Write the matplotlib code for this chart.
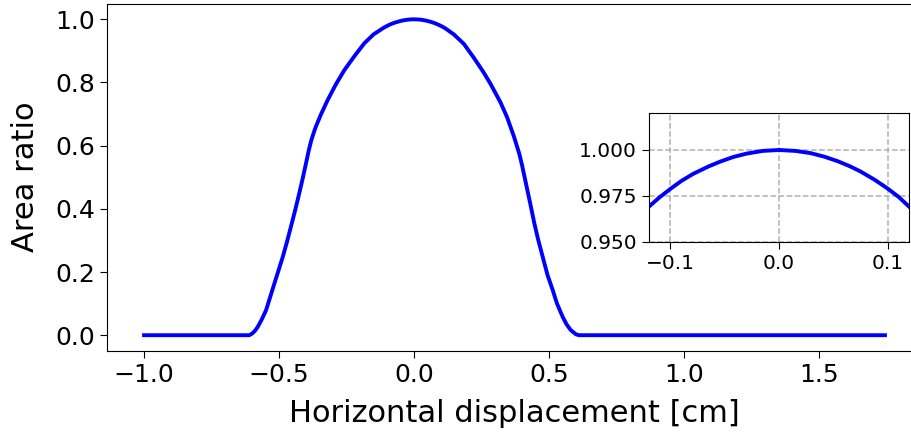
import matplotlib
matplotlib.use('Agg')
import matplotlib.pyplot as plt

# values (main curve plus the zoomed inset)
displacement = [-1.0, -0.61, -0.60, -0.59, -0.579, -0.565, -0.548, -0.533, -0.517,
                -0.50, -0.486, -0.47, -0.456, -0.44, -0.425, -0.412, -0.40,
                -0.39, -0.381, -0.369, -0.363, -0.345, -0.32, -0.29, -0.258,
                -0.22, -0.184, -0.15, -0.12, -0.11, -0.10, -0.09, -0.079,
                -0.065, -0.054, -0.042, -0.03, -0.015, 0.0, 0.015, 0.029,
                0.042, 0.054, 0.065, 0.075, 0.088, 0.10, 0.11, 0.12, 0.148,
                0.185, 0.222, 0.258, 0.284, 0.32, 0.345, 0.37, 0.39, 0.40,
                0.415, 0.43, 0.446, 0.46, 0.477, 0.495, 0.514, 0.53, 0.551,
                0.565, 0.581, 0.60, 0.611, 1.745]
area_ratio = [0.0, 0.0, 0.005, 0.013, 0.026, 0.048, 0.079, 0.12, 0.164,
              0.21, 0.248, 0.297, 0.343, 0.396, 0.449, 0.497, 0.544,
              0.584, 0.615, 0.647, 0.661, 0.698, 0.744, 0.793, 0.839,
              0.884, 0.924, 0.952, 0.969, 0.9742, 0.9788, 0.9831, 0.9870,
              0.9910, 0.9937, 0.9962, 0.998, 0.9995, 1.0, 0.9995, 0.9983,
              0.9963, 0.9939, 0.9912, 0.9883, 0.9838, 0.979, 0.9745, 0.969, 0.952,
              0.922, 0.878, 0.832, 0.795, 0.738, 0.69, 0.63, 0.575, 0.54,
              0.48, 0.42, 0.354, 0.303, 0.248, 0.19, 0.143, 0.10, 0.058,
              0.035, 0.016, 0.003, 0.0, 0.0]

inset_xticks = [-0.1, 0.0, 0.1]
inset_yticks = [0.950, 0.975, 1.000]
inset_ylabels = ['0.950', '0.975', '1.000']

fig = plt.figure(figsize=(9.11, 4.32), dpi=100)

# main axes (right spine falls just outside the picture, as in the reference)
ax = fig.add_axes([107 / 911, 1 - 351 / 432, 815 / 911, 347.5 / 432])
ax.plot(displacement, area_ratio, color='blue', linewidth=2.8,
        solid_joinstyle='round')
ax.set_xlabel('Horizontal displacement [cm]', fontsize=22, labelpad=9)
ax.set_ylabel('Area ratio', fontsize=22, labelpad=11)
ax.tick_params(labelsize=18, length=5)
ax.set_xticks([-1.0, -0.5, 0.0, 0.5, 1.0, 1.5])
ax.set_yticks([0.0, 0.2, 0.4, 0.6, 0.8, 1.0])

# zoomed inset around the peak
axin = fig.add_axes([648.7 / 911, 1 - 241.7 / 432, 260.6 / 911, 128.4 / 432])
axin.plot(displacement, area_ratio, color='blue', linewidth=2.8,
          solid_joinstyle='round')
axin.set_xlim(-0.12, 0.12)
axin.set_ylim(0.95, 1.02)
axin.set_xticks(inset_xticks)
axin.set_yticks(inset_yticks)
axin.set_yticklabels(inset_ylabels)
axin.tick_params(labelsize=14.5, length=5)
axin.grid(True, linestyle='--', color='#b0b0b0', linewidth=1.1)

fig.savefig('out.png', dpi=100)
